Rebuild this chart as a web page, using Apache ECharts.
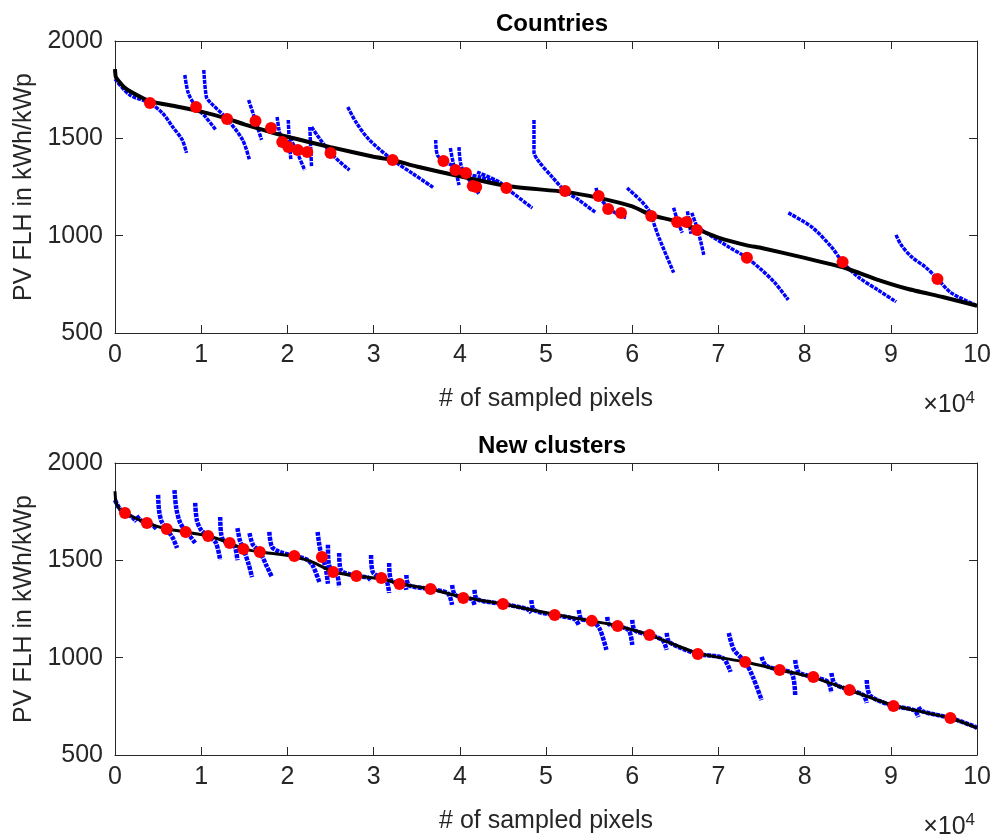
<!DOCTYPE html>
<html><head><meta charset="utf-8">
<script src="https://cdn.jsdelivr.net/npm/echarts@6/dist/echarts.min.js"></script>
<style>html,body{margin:0;padding:0;background:#fff}#c{width:994px;height:835px}</style>
</head><body><div id="c"></div>
<script>
// x in units of 10^4 sampled pixels, y in kWh/kWp
const xTicks = [0,1,2,3,4,5,6,7,8,9,10];
const yTicks = [500,1000,1500,2000];
const titles = ['Countries','New clusters'];
const xName = '# of sampled pixels';
const yName = 'PV FLH in kWh/kWp';

// ---- Countries ----
const countriesTotal = [[0,1855],[0.01,1815],[0.1,1765],[0.2,1735],[0.405,1690],[0.7,1665],[1,1637],[1.31,1600],[1.5,1572],[2,1508],[2.5,1455],[3,1405],[3.22,1389],[3.5,1355],[4,1305],[4.54,1255],[5.22,1225],[5.61,1194],[6,1150],[6.22,1106],[6.5,1075],[6.77,1030],[7,990],[7.33,950],[7.5,937],[8,886],[8.47,834],[8.85,773],[9.2,726],[9.6,685],[10,640]];
const countriesMedian = [[0.405,1682],[0.94,1661],[1.30,1599],[1.63,1589],[1.81,1553],[1.94,1481],[2.01,1456],[2.12,1440],[2.23,1430],[2.50,1425],[3.22,1389],[3.81,1384],[3.95,1337],[4.07,1322],[4.15,1255],[4.19,1250],[4.54,1245],[5.22,1230],[5.61,1204],[5.72,1137],[5.87,1116],[6.22,1101],[6.52,1070],[6.63,1070],[6.75,1029],[7.33,886],[8.44,865],[9.54,778]];
const countriesCurves = [
 [[0.0,1805],[0.17,1723],[0.40,1682],[0.55,1630],[0.67,1558],[0.78,1492],[0.83,1425]],
 [[0.81,1825],[0.85,1733],[0.94,1661],[1.05,1610],[1.17,1543]],
 [[1.03,1851],[1.06,1712],[1.10,1687],[1.30,1599],[1.48,1492],[1.56,1389]],
 [[1.55,1697],[1.60,1630],[1.63,1589],[1.70,1492]],
 [[1.88,1610],[1.90,1550],[1.93,1480]],
 [[2.01,1594],[2.02,1500],[2.04,1389]],
 [[2.03,1502],[2.10,1440],[2.20,1337]],
 [[2.26,1558],[2.27,1450],[2.28,1353]],
 [[2.28,1558],[2.50,1425],[2.72,1337]],
 [[2.70,1661],[2.80,1580],[2.95,1492],[3.22,1389],[3.45,1320],[3.70,1245]],
 [[3.72,1492],[3.74,1414],[3.82,1384],[3.95,1350]],
 [[3.89,1450],[3.92,1380],[3.97,1300],[3.99,1260]],
 [[3.99,1455],[4.01,1370],[4.06,1322],[4.25,1300],[4.42,1276]],
 [[4.10,1290],[4.16,1255],[4.22,1215]],
 [[4.20,1327],[4.46,1276],[4.54,1245],[4.84,1142]],
 [[4.86,1594],[4.86,1430],[4.92,1379],[5.07,1302],[5.22,1230],[5.38,1183],[5.58,1117]],
 [[5.58,1245],[5.61,1204],[5.75,1132],[5.93,1091]],
 [[5.94,1245],[6.10,1180],[6.19,1132],[6.22,1101],[6.31,990],[6.48,810]],
 [[6.48,1143],[6.53,1070],[6.58,1015]],
 [[6.64,1125],[6.66,1070],[6.68,1010]],
 [[6.69,1117],[6.76,1029],[6.83,901]],
 [[6.80,1030],[7.12,942],[7.33,886],[7.50,824],[7.65,760],[7.81,670]],
 [[7.81,1117],[8.08,1045],[8.31,942],[8.44,865],[8.62,788],[8.85,721],[9.06,660]],
 [[9.06,1004],[9.12,952],[9.24,891],[9.40,839],[9.54,778],[9.70,706],[9.98,644]]
];

// ---- New clusters ----
const clustersTotal = [[0,1855],[0.01,1800],[0.05,1765],[0.116,1743],[0.37,1692],[0.6,1661],[0.82,1646],[1.08,1625],[1.33,1589],[1.49,1560],[1.68,1543],[2.08,1520],[2.3,1490],[2.53,1440],[2.80,1420],[3.09,1405],[3.30,1380],[3.66,1353],[4.04,1310],[4.50,1276],[5.10,1222],[5.53,1189],[5.83,1163],[6.20,1117],[6.5,1065],[6.76,1022],[7.31,978],[7.71,937],[8.10,899],[8.52,834],[9.03,754],[9.69,690],[10,639]];
const clustersMedian = [[0.116,1743],[0.37,1692],[0.60,1661],[0.82,1646],[1.08,1625],[1.33,1589],[1.49,1558],[1.68,1543],[2.08,1522],[2.40,1517],[2.53,1440],[2.80,1420],[3.09,1409],[3.30,1378],[3.66,1353],[4.04,1307],[4.50,1276],[5.10,1219],[5.53,1189],[5.83,1163],[6.20,1117],[6.76,1019],[7.31,978],[7.71,937],[8.10,901],[8.52,834],[9.03,752],[9.69,690]];
const clustersCurves = [
 [[0.00,1810],[0.05,1768],[0.116,1743],[0.20,1722],[0.25,1700]],
 [[0.25,1728],[0.30,1705],[0.37,1692],[0.44,1680],[0.48,1662]],
 [[0.50,1836],[0.51,1760],[0.54,1700],[0.60,1661],[0.67,1615],[0.72,1563]],
 [[0.69,1861],[0.71,1770],[0.75,1700],[0.82,1646],[0.88,1618],[0.93,1589]],
 [[0.93,1795],[0.95,1705],[1.00,1655],[1.08,1625],[1.17,1590],[1.22,1502]],
 [[1.22,1723],[1.23,1640],[1.26,1600],[1.33,1589],[1.39,1570],[1.42,1500]],
 [[1.42,1666],[1.45,1600],[1.49,1558],[1.55,1480],[1.59,1414]],
 [[1.56,1640],[1.60,1580],[1.68,1543],[1.76,1470],[1.82,1414]],
 [[1.79,1646],[1.82,1570],[1.90,1545],[2.08,1522],[2.22,1505],[2.29,1476],[2.37,1389]],
 [[2.35,1646],[2.37,1580],[2.40,1517],[2.44,1470],[2.47,1380]],
 [[2.47,1580],[2.48,1480],[2.53,1440],[2.58,1420],[2.60,1363]],
 [[2.60,1538],[2.62,1450],[2.80,1420],[2.93,1412],[2.97,1395]],
 [[2.97,1527],[2.99,1440],[3.09,1409],[3.15,1395],[3.18,1332]],
 [[3.18,1486],[3.20,1400],[3.30,1378],[3.36,1372],[3.38,1348]],
 [[3.38,1425],[3.41,1372],[3.66,1353],[3.86,1330],[3.91,1271]],
 [[3.91,1373],[3.94,1325],[4.04,1307],[4.14,1300],[4.17,1271]],
 [[4.17,1348],[4.20,1300],[4.50,1276],[4.78,1250],[4.83,1230]],
 [[4.83,1296],[4.86,1245],[5.10,1219],[5.33,1198],[5.38,1168]],
 [[5.38,1245],[5.41,1198],[5.53,1189],[5.62,1150],[5.70,1040]],
 [[5.71,1209],[5.73,1172],[5.83,1163],[5.96,1140],[6.00,1065]],
 [[6.00,1194],[6.03,1140],[6.20,1117],[6.35,1090],[6.40,1040]],
 [[6.40,1127],[6.43,1080],[6.76,1019],[7.05,998],[7.14,927]],
 [[7.12,1127],[7.18,1040],[7.31,978],[7.40,900],[7.50,783]],
 [[7.50,1004],[7.55,960],[7.71,937],[7.85,920],[7.89,808]],
 [[7.89,988],[7.93,925],[8.10,901],[8.27,875],[8.31,819]],
 [[8.31,921],[8.35,865],[8.52,834],[8.68,808],[8.72,767]],
 [[8.72,885],[8.76,805],[9.03,752],[9.27,730],[9.32,695]],
 [[9.32,747],[9.36,725],[9.69,690],[9.95,650],[10.0,639]]
];

const FONT = 'Liberation Sans, Arial, Helvetica, sans-serif';
const TXT = '#262626';
const gridTops = [41, 463];
const grids = gridTops.map(t => ({left:115, top:t, width:864, height:292, containLabel:false}));

const xAxes = [], yAxes = [];
gridTops.forEach((t, g) => {
  const tick = {show:true, inside:true, length:8, lineStyle:{color:TXT, width:1}};
  const line = {show:true, onZero:false, lineStyle:{color:TXT, width:1}};
  xAxes.push({type:'value', gridIndex:g, position:'bottom', min:xTicks[0], max:xTicks[xTicks.length-1], interval:1,
    axisLine:line, axisTick:tick, splitLine:{show:false},
    axisLabel:{color:TXT, fontSize:25, fontFamily:FONT, margin:10, showMinLabel:true, showMaxLabel:true},
    name:xName, nameLocation:'middle', nameGap:54, nameTextStyle:{color:TXT, fontSize:25, fontFamily:FONT}});
  xAxes.push({type:'value', gridIndex:g, position:'top', min:xTicks[0], max:xTicks[xTicks.length-1], interval:1,
    axisLine:line, axisTick:tick, splitLine:{show:false}, axisLabel:{show:false}});
  yAxes.push({type:'value', gridIndex:g, position:'left', min:yTicks[0], max:yTicks[yTicks.length-1], interval:500,
    axisLine:line, axisTick:tick, splitLine:{show:false},
    axisLabel:{color:TXT, fontSize:25, fontFamily:FONT, margin:12, formatter: v => String(v)},
    name:yName, nameLocation:'middle', nameGap:77, nameTextStyle:{color:TXT, fontSize:25, fontFamily:FONT}});
  yAxes.push({type:'value', gridIndex:g, position:'right', min:yTicks[0], max:yTicks[yTicks.length-1], interval:500,
    axisLine:line, axisTick:tick, splitLine:{show:false}, axisLabel:{show:false}});
});

const series = [];
function addPanel(g, curves, total, med, blueW, blackW) {
  curves.forEach(c => series.push({type:'line', xAxisIndex:2*g, yAxisIndex:2*g, data:c, showSymbol:false,
    smooth:0.3, lineStyle:{color:'#0000ff', width:blueW, type:[4,1], opacity:1}, z:2, silent:true}));
  series.push({type:'line', xAxisIndex:2*g, yAxisIndex:2*g, data:total, showSymbol:false, smooth:0.15,
    lineStyle:{color:'#000000', width:blackW}, z:3, silent:true});
  series.push({type:'scatter', xAxisIndex:2*g, yAxisIndex:2*g, data:med, symbol:'circle', symbolSize:12,
    itemStyle:{color:'#ff0000', opacity:1}, z:4, silent:true});
}
addPanel(0, countriesCurves, countriesTotal, countriesMedian, 3.5, 4);
addPanel(1, clustersCurves, clustersTotal, clustersMedian, 4.5, 3);

const titleList = [];
titles.forEach((t, g) => {
  titleList.push({text:t, left:547, top:gridTops[g]-34, textAlign:'center',
    textStyle:{color:'#000', fontSize:24, fontWeight:'bold', fontFamily:FONT}});
  titleList.push({text:'×10{s|4}', right:14, top:gridTops[g]+344,
    textStyle:{color:TXT, fontSize:25, fontWeight:'normal', fontFamily:FONT,
      rich:{s:{fontSize:17, verticalAlign:'top', padding:[0,0,14,0], fontFamily:FONT, color:TXT}}}});
});

const chart = echarts.init(document.getElementById('c'), null, {renderer:'canvas'});
chart.setOption({animation:false, backgroundColor:'#fff', title:titleList, grid:grids, xAxis:xAxes, yAxis:yAxes, series});
</script></body></html>
